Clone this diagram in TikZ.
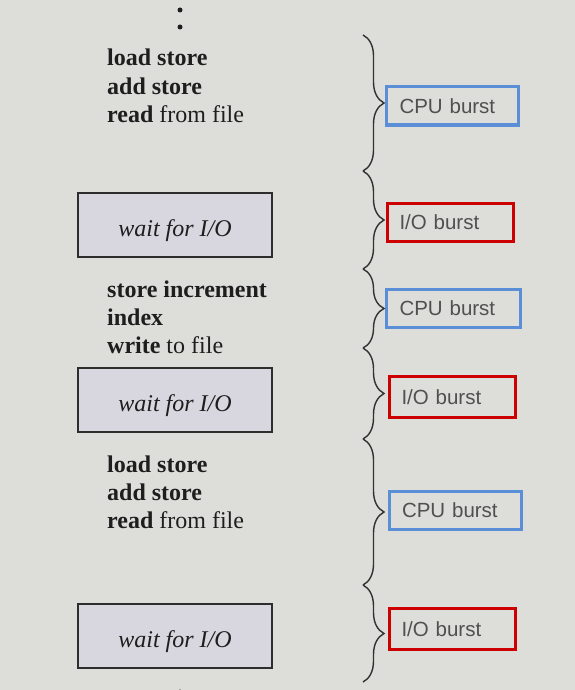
\documentclass[tikz,border=0pt]{standalone}
\usepackage{fontspec}
\setmainfont{Liberation Serif}
\newfontfamily\burstfont{Liberation Sans}
\usetikzlibrary{decorations.pathreplacing}
\definecolor{bg}{RGB}{221,221,217}
\definecolor{txt}{RGB}{30,30,30}
\definecolor{bursttxt}{RGB}{80,80,80}
\definecolor{cpublue}{RGB}{90,143,216}
\definecolor{iored}{RGB}{204,0,0}
\definecolor{waitfill}{RGB}{216,214,222}
\definecolor{boxline}{RGB}{45,45,45}
\definecolor{bracecol}{RGB}{50,50,50}
\begin{document}
\begin{tikzpicture}[x=1pt,y=-1pt,
  codeline/.style={anchor=base west, inner sep=0pt, text=txt, font=\fontsize{24}{28}\selectfont},
  waitbox/.style={draw=boxline, fill=waitfill, line width=1.5pt, minimum width=194pt, minimum height=64pt, inner sep=0pt, text height=23pt, text depth=1pt, text=txt, font=\fontsize{24}{28}\selectfont\itshape},
  cpubox/.style={draw=cpublue, line width=3pt, minimum height=38pt, inner xsep=13pt, inner ysep=0pt, text width=106pt, align=left, text=bursttxt, font=\burstfont\fontsize{20.5}{24}\selectfont},
  iobox/.style={draw=iored, line width=3pt, minimum height=38pt, inner xsep=12pt, inner ysep=0pt, text width=102pt, align=left, text=bursttxt, font=\burstfont\fontsize{20.5}{24}\selectfont},
  bracebar/.style={draw=bracecol, line width=1.4pt, decorate, decoration={brace, amplitude=21pt}},
  dotmark/.style={circle, fill=txt, inner sep=0pt, minimum size=5pt}
]
\useasboundingbox (0,0) rectangle (575,690);
\clip (0,0) rectangle (575,690);
\fill[bg] (0,0) rectangle (575,690);

% dots
\node[dotmark] (d1) at (180,10) {};
\node[dotmark] (d2) at (180,27) {};
\node[dotmark] (d3) at (180,692) {};

% code block 1
\node[codeline] (a1) at (107,66) {\textbf{load store}};
\node[codeline] (a2) at (107,95) {\textbf{add store}};
\node[codeline] (a3) at (107,123) {\textbf{read} from file};
% wait 1
\node[waitbox] (w1) at (175,225) {wait for I/O};
% code block 2
\node[codeline] (b1) at (107,297) {\textbf{store increment}};
\node[codeline] (b2) at (107,325) {\textbf{index}};
\node[codeline] (b3) at (107,353) {\textbf{write} to file};
% wait 2
\node[waitbox] (w2) at (175,400) {wait for I/O};
% code block 3
\node[codeline] (c1) at (107,472) {\textbf{load store}};
\node[codeline] (c2) at (107,500) {\textbf{add store}};
\node[codeline] (c3) at (107,528) {\textbf{read} from file};
% wait 3
\node[waitbox] (w3) at (175,636) {wait for I/O};

% burst boxes
\node[cpubox] (cpu1) at (452.5,106) {CPU burst};
\node[iobox] (io1) at (450.5,222) {I/O burst};
\node[cpubox, text width=108pt] (cpu2) at (453.5,308.5) {CPU burst};
\node[iobox, minimum height=41pt] (io2) at (452.5,397) {I/O burst};
\node[cpubox] (cpu3) at (455,510.5) {CPU burst};
\node[iobox, minimum height=41pt] (io3) at (452.5,629) {I/O burst};

% brace end points
\coordinate (j0) at (363,35);
\coordinate (j1) at (363,171);
\coordinate (j2) at (363,269);
\coordinate (j3) at (363,348);
\coordinate (j4) at (363,439);
\coordinate (j5) at (363,585);
\coordinate (j6) at (363,682);

\draw[bracebar] (j0) -- (j1);
\draw[bracebar] (j1) -- (j2);
\draw[bracebar] (j2) -- (j3);
\draw[bracebar] (j3) -- (j4);
\draw[bracebar] (j4) -- (j5);
\draw[bracebar] (j5) -- (j6);
\end{tikzpicture}
\end{document}
